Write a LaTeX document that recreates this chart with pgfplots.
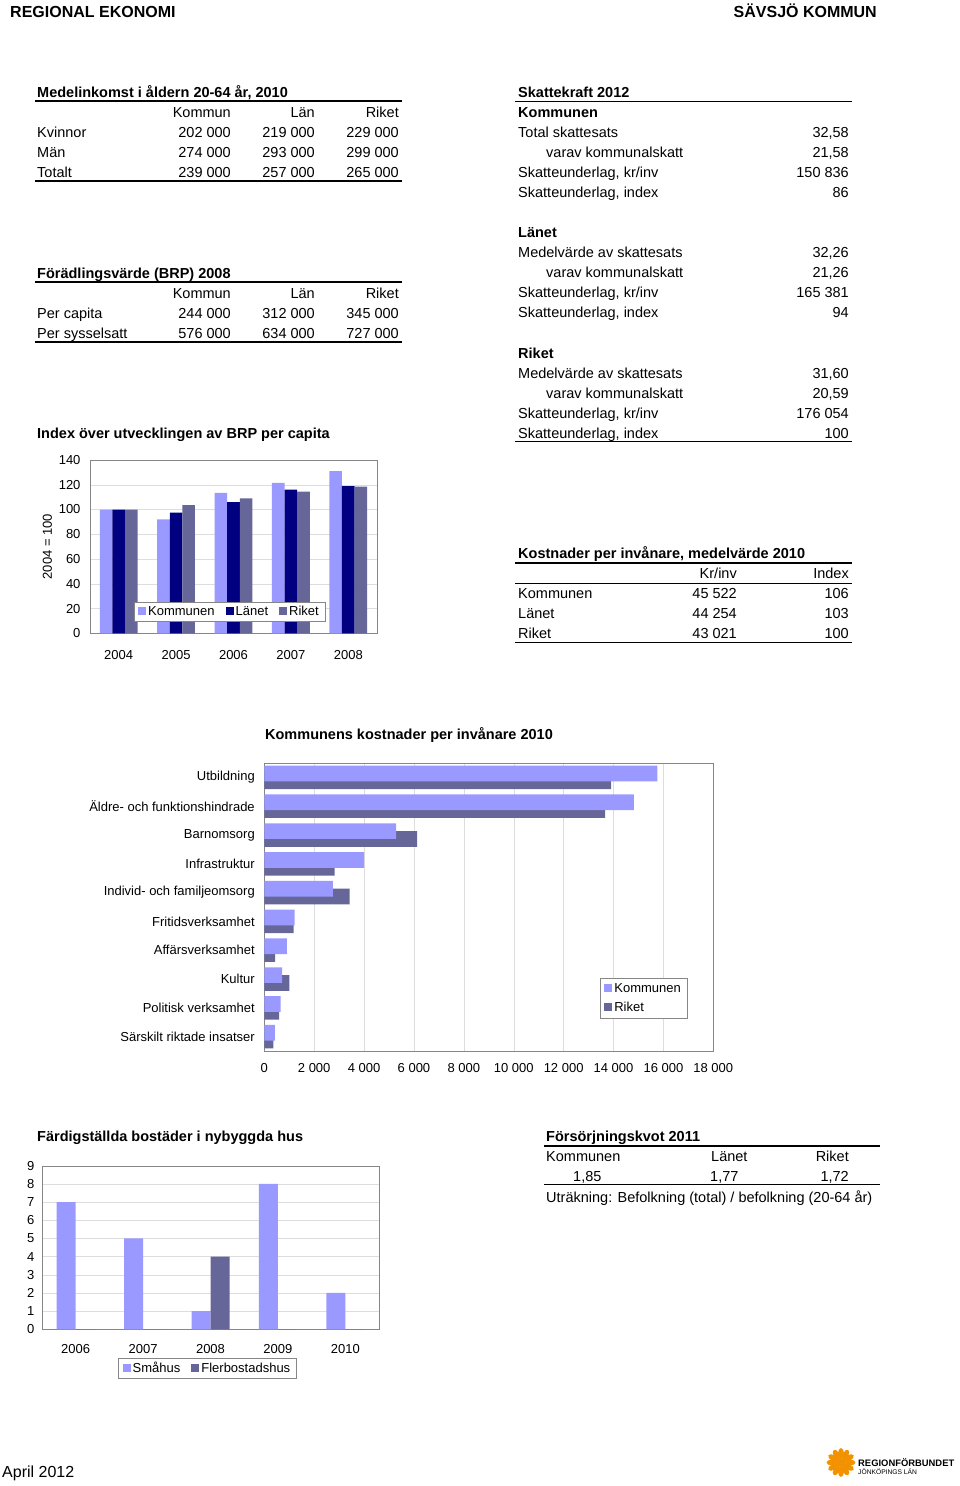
\documentclass[border=0pt]{standalone}
\usepackage{fontspec}
\setmainfont{Liberation Sans}
\usepackage{pgfplots}
\pgfplotsset{compat=1.18}
\definecolor{kom}{HTML}{9999FF}
\definecolor{lan}{HTML}{000080}
\definecolor{rik}{HTML}{666699}
\definecolor{grd}{HTML}{DDDDDD}
\definecolor{frm}{HTML}{868686}
\definecolor{logo}{HTML}{F39200}
\newcommand{\myfs}{\fontsize{14.5}{17}\selectfont}
\newcommand{\mycf}{\fontsize{13}{15}\selectfont}
\newcommand{\TL}[3]{\node[anchor=base west,inner sep=0pt,font=\myfs] at (#1,-#2) {#3};}
\newcommand{\TR}[3]{\node[anchor=base east,inner sep=0pt,font=\myfs] at (#1,-#2) {#3};}
\newcommand{\TB}[3]{\node[anchor=base west,inner sep=0pt,font=\myfs\bfseries] at (#1,-#2) {#3};}
\newcommand{\HR}[3]{\draw[line width=1.5pt] (#1,-#3) -- (#2,-#3);}
\pgfplotsset{
  sqlegend/.style={legend image code/.code={\fill[##1] (0pt,-3.5pt) rectangle (8pt,4.5pt);}},
  chartstyle/.style={
    scale only axis,
    axis line style={frm},
    tick style={draw=none},
    tick label style={font=\mycf},
    /pgf/number format/assume math mode=true,
    grid style={grd},
    legend cell align=left,
    legend style={font=\mycf, draw=frm, fill=white, inner xsep=4pt, inner ysep=2pt},
    every axis plot post/.append style={sqlegend},
  }
}
\begin{document}
\begin{tikzpicture}[x=1pt,y=1pt]
\path[use as bounding box] (0,0) rectangle (960,-1486);
% header
\node[anchor=base west,inner sep=0pt,font=\fontsize{16}{18}\selectfont\bfseries] at (10,-17) {REGIONAL EKONOMI};
\node[anchor=base east,inner sep=0pt,font=\fontsize{16}{18}\selectfont\bfseries] at (877,-17) {SÄVSJÖ KOMMUN};
% table 1
\TB{37}{97}{Medelinkomst i åldern 20-64 år, 2010}
\HR{35}{402}{101}
\TR{231}{117}{Kommun}\TR{315}{117}{Län}\TR{399}{117}{Riket}
\TL{37}{137}{Kvinnor}\TR{231}{137}{202 000}\TR{315}{137}{219 000}\TR{399}{137}{229 000}
\TL{37}{157}{Män}\TR{231}{157}{274 000}\TR{315}{157}{293 000}\TR{399}{157}{299 000}
\TL{37}{177}{Totalt}\TR{231}{177}{239 000}\TR{315}{177}{257 000}\TR{399}{177}{265 000}
\HR{35}{402}{181}
% table 2
\TB{37}{278}{Förädlingsvärde (BRP) 2008}
\HR{35}{402}{282}
\TR{231}{298}{Kommun}\TR{315}{298}{Län}\TR{399}{298}{Riket}
\TL{37}{318}{Per capita}\TR{231}{318}{244 000}\TR{315}{318}{312 000}\TR{399}{318}{345 000}
\TL{37}{338}{Per sysselsatt}\TR{231}{338}{576 000}\TR{315}{338}{634 000}\TR{399}{338}{727 000}
\HR{35}{402}{342}
\TB{37}{438}{Index över utvecklingen av BRP per capita}
% skattekraft
\TB{518}{97}{Skattekraft 2012}
\HR{515}{852}{101.5}
\TB{518}{117}{Kommunen}
\TL{518}{137}{Total skattesats}\TR{849}{137}{32,58}
\TL{546}{157}{varav kommunalskatt}\TR{849}{157}{21,58}
\TL{518}{177}{Skatteunderlag, kr/inv}\TR{849}{177}{150 836}
\TL{518}{197}{Skatteunderlag, index}\TR{849}{197}{86}
\TB{518}{237}{Länet}
\TL{518}{257}{Medelvärde av skattesats}\TR{849}{257}{32,26}
\TL{546}{277}{varav kommunalskatt}\TR{849}{277}{21,26}
\TL{518}{297}{Skatteunderlag, kr/inv}\TR{849}{297}{165 381}
\TL{518}{317}{Skatteunderlag, index}\TR{849}{317}{94}
\TB{518}{358}{Riket}
\TL{518}{378}{Medelvärde av skattesats}\TR{849}{378}{31,60}
\TL{546}{398}{varav kommunalskatt}\TR{849}{398}{20,59}
\TL{518}{418}{Skatteunderlag, kr/inv}\TR{849}{418}{176 054}
\TL{518}{438}{Skatteunderlag, index}\TR{849}{438}{100}
\HR{515}{852}{441.5}
% kostnader table
\TB{518}{558.5}{Kostnader per invånare, medelvärde 2010}
\HR{515}{852}{563}
\TR{737}{578.5}{Kr/inv}\TR{849}{578.5}{Index}
\draw[line width=1.3pt] (515,-583.3) -- (852,-583.3);
\TL{518}{598.5}{Kommunen}\TR{737}{598.5}{45 522}\TR{849}{598.5}{106}
\TL{518}{618.5}{Länet}\TR{737}{618.5}{44 254}\TR{849}{618.5}{103}
\TL{518}{638.5}{Riket}\TR{737}{638.5}{43 021}\TR{849}{638.5}{100}
\HR{515}{852}{642.5}
% BRP chart
\begin{axis}[chartstyle, at={(90pt,-633.3pt)}, anchor=south west,
  width=287pt, height=173.3pt,
  ybar=0pt, bar width=12.6pt,
  xmin=-0.5, xmax=4.5, ymin=0, ymax=140,
  ytick={0,20,...,140}, xtick={0,1,2,3,4},
  xticklabels={2004,2005,2006,2007,2008},
  xticklabel style={yshift=-9pt},
  yticklabel style={xshift=-6pt},
  ymajorgrids,
  ylabel={2004 = 100}, ylabel style={font=\mycf},
  legend columns=3,
  legend style={at={(0.153,0.069)}, anchor=south west, /tikz/every even column/.append style={column sep=9pt}},
]
\addplot[fill=kom,draw=none] coordinates {(0,100)(1,92)(2,113.5)(3,121.5)(4,131)};
\addplot[fill=lan,draw=none] coordinates {(0,100)(1,97.5)(2,106)(3,116)(4,119)};
\addplot[fill=rik,draw=none] coordinates {(0,100)(1,103.5)(2,109)(3,114.5)(4,118.5)};
\legend{Kommunen,Länet,Riket}
\end{axis}
% cost chart
\node[anchor=base,inner sep=0pt,font=\myfs\bfseries] at (409,-739) {Kommunens kostnader per invånare 2010};
\begin{axis}[chartstyle, at={(264.3pt,-1051pt)}, anchor=south west,
  width=449pt, height=288pt,
  xmin=0, xmax=18000, ymin=-0.5, ymax=9.5, y dir=reverse,
  scaled x ticks=false,
  xtick={0,2000,4000,6000,8000,10000,12000,14000,16000,18000},
  xticklabels={0,2 000,4 000,6 000,8 000,10 000,12 000,14 000,16 000,18 000},
  ytick={0,1,2,3,4,5,6,7,8,9},
  yticklabels={Utbildning,Äldre- och funktionshindrade,Barnomsorg,Infrastruktur,Individ- och familjeomsorg,Fritidsverksamhet,Affärsverksamhet,Kultur,Politisk verksamhet,Särskilt riktade insatser},
  xticklabel style={yshift=-9pt},
  yticklabel style={xshift=-6pt},
  xmajorgrids,
  legend style={at={(0.748,0.253)}, anchor=north west, row sep=4pt, inner ysep=3pt},
]
\addlegendimage{fill=kom,draw=none,sqlegend}
\addlegendentry{Kommunen}
\addlegendimage{fill=rik,draw=none,sqlegend}
\addlegendentry{Riket}
\addplot[xbar, bar width=15.7pt, bar shift=-3.9pt, fill=rik, draw=none, forget plot] coordinates {(13900,0)(13660,1)(6130,2)(2820,3)(3420,4)(1180,5)(430,6)(1010,7)(590,8)(360,9)};
\addplot[xbar, bar width=15.7pt, bar shift=3.9pt, fill=kom, draw=none, forget plot] coordinates {(15760,0)(14820,1)(5280,2)(4000,3)(2750,4)(1220,5)(910,6)(710,7)(650,8)(420,9)};
\end{axis}
% housing chart
\TB{37}{1141.5}{Färdigställda bostäder i nybyggda hus}
\begin{axis}[chartstyle, at={(42pt,-1329.3pt)}, anchor=south west,
  width=337pt, height=163.6pt,
  ybar=0pt, bar width=19pt,
  xmin=-0.5, xmax=4.5, ymin=0, ymax=9,
  ytick={0,1,2,3,4,5,6,7,8,9}, xtick={0,1,2,3,4},
  xticklabels={2006,2007,2008,2009,2010},
  xticklabel style={yshift=-7pt},
  yticklabel style={xshift=-4pt},
  ymajorgrids,
  legend columns=2,
  legend style={at={(0.491,-0.175)}, anchor=north, /tikz/every even column/.append style={column sep=9pt}},
]
\addplot[fill=kom,draw=none] coordinates {(0,7)(1,5)(2,1)(3,8)(4,2)};
\addplot[fill=rik,draw=none] coordinates {(0,0)(1,0)(2,4)(3,0)(4,0)};
\legend{Småhus,Flerbostadshus}
\end{axis}
% försörjningskvot
\TB{546}{1141.5}{Försörjningskvot 2011}
\HR{544}{880}{1146}
\TL{546}{1161.5}{Kommunen}\TL{711}{1161.5}{Länet}\TR{849}{1161.5}{Riket}
\TL{573}{1181}{1,85}\TL{710}{1181}{1,77}\TR{849}{1181}{1,72}
\HR{544}{880}{1184.5}
\TL{546}{1202}{Uträkning: Befolkning (total) / befolkning (20-64 år)}
% footer
\node[anchor=base west,inner sep=0pt,font=\fontsize{16}{18}\selectfont] at (2,-1477) {April 2012};
\foreach \a in {0,30,...,330} {\fill[logo,rotate around={\a:(841,-1462.5)}] (850,-1462.5) ellipse (5.5pt and 3pt);}
\fill[logo] (841,-1462.5) circle (4.5pt);
\node[anchor=base west,inner sep=0pt,font=\fontsize{9.4}{10}\selectfont\bfseries] at (858,-1466) {REGIONFÖRBUNDET};
\node[anchor=base west,inner sep=0pt,font=\fontsize{6.7}{8}\selectfont] at (858,-1474) {JÖNKÖPINGS LÄN};
\end{tikzpicture}
\end{document}
